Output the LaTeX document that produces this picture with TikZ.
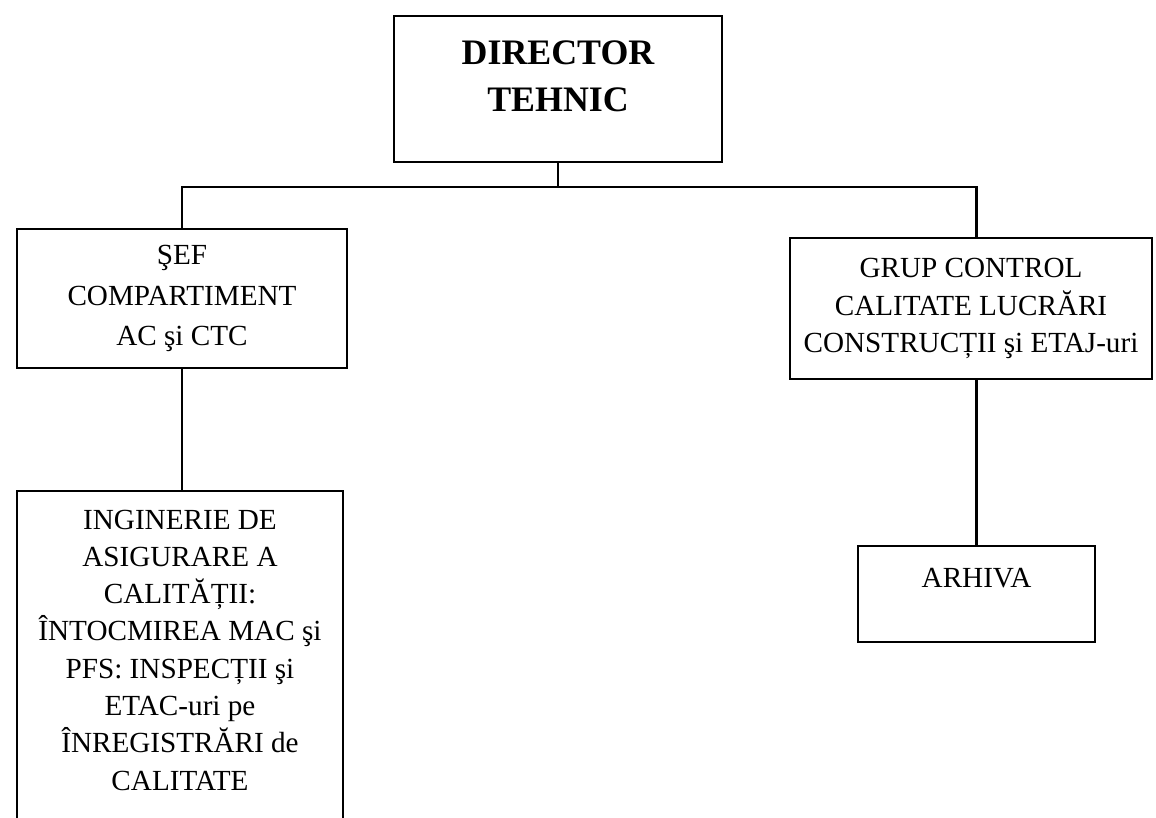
\documentclass[tikz,border=0pt]{standalone}
\usepackage{fontspec}
\setmainfont{Liberation Serif}
\usetikzlibrary{positioning}

\begin{document}
\begin{tikzpicture}[%%
  lineStyle/.style={-,line width=0.8pt},%%
  boxStyle/.style={draw,line width=0.8pt,inner sep=0pt,align=center,%%
    font=\fontsize{8.3}{10.6}\selectfont},%%
  titleStyle/.style={boxStyle,font=\fontsize{10.2}{13.6}\selectfont\bfseries}%%
]
%%
\useasboundingbox (0,0) rectangle (11.56,-8.18);
%%
\pgfmathsetmacro{\busy}{-1.87}
%%
\coordinate (Director) at (5.58,-0.89);
\coordinate (SefComp) at (1.82,-2.985);
\coordinate (GrupCtrl) at (9.71,-3.085);
\coordinate (IngAsig) at (1.80,-6.61);
\coordinate (Archive) at (9.765,-5.94);
\coordinate (Bus) at (0,\busy);
%%
%%
%% Boxes of the chart.
\node (DT) at (Director) [titleStyle,minimum width=3.28cm,
  text height=0.96cm,text depth=0.50cm] {DIRECTOR\\TEHNIC};
\node (SEF) at (SefComp) [boxStyle,minimum width=3.30cm,minimum height=1.39cm,
  font=\fontsize{8.3}{11.6}\selectfont]
  {ŞEF\\COMPARTIMENT\\AC şi CTC};
\node (GCC) at (GrupCtrl) [boxStyle,minimum width=3.62cm,minimum height=1.41cm]
  {GRUP CONTROL\\CALITATE LUCRĂRI\\CONSTRUCȚII şi ETAJ-uri};
\node (ING) at (IngAsig) [boxStyle,minimum width=3.26cm,
  text height=2.99cm,text depth=0.41cm]
  {INGINERIE DE\\ASIGURARE A\\CALITĂȚII:\\ÎNTOCMIREA MAC şi\\PFS: INSPECȚII şi\\ETAC-uri pe\\ÎNREGISTRĂRI de\\CALITATE};
\node (ARH) at (Archive) [boxStyle,minimum width=2.37cm,
  text height=0.41cm,text depth=0.55cm] {ARHIVA};
%%
%% Lines between the boxes.
\draw[lineStyle] (DT.south) -- (DT.south |- Bus) -| (SEF.north);
\draw[lineStyle] (DT.south |- Bus) -| (GCC.north -| ARH.north);
\draw[lineStyle] (SEF.south) -- (SEF.south |- ING.north);
\draw[lineStyle] (ARH.north |- GCC.south) -- (ARH.north);
\end{tikzpicture}
\end{document}
